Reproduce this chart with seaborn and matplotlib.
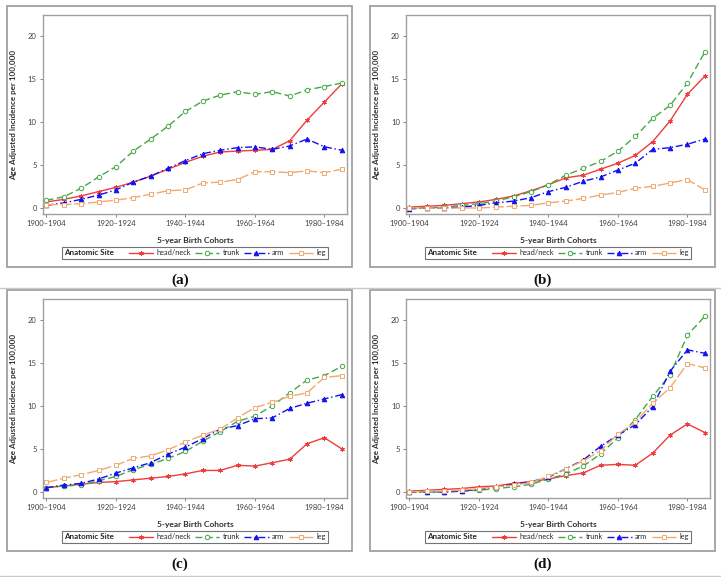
import seaborn as sns
import matplotlib.pyplot as plt
import numpy as np
from matplotlib.patches import Rectangle
from matplotlib.lines import Line2D
from matplotlib.offsetbox import HPacker

sns.set_theme(style='ticks')
plt.rcParams['font.family'] = ['Lato', 'DejaVu Sans']

cohorts = ['1900–1904', '1905–1909', '1910–1914', '1915–1919', '1920–1924', '1925–1929',
           '1930–1934', '1935–1939', '1940–1944', '1945–1949', '1950–1954', '1955–1959',
           '1960–1964', '1965–1969', '1970–1974', '1975–1979', '1980–1984', '1985–1989']
sites = ['head/neck', 'trunk', 'arm', 'leg']

# panel (a)
a_head = [0.7, 1.0, 1.4, 1.9, 2.4, 3.0, 3.7, 4.5, 5.3, 6.0, 6.5, 6.6, 6.7, 6.8, 7.8, 10.2, 12.3, 14.4]
a_trunk = [0.9, 1.3, 2.3, 3.6, 4.8, 6.6, 8.0, 9.5, 11.2, 12.4, 13.1, 13.5, 13.2, 13.5, 13.0, 13.7, 14.1, 14.5]
a_arm = [0.3, 0.6, 1.0, 1.5, 2.1, 3.0, 3.7, 4.6, 5.5, 6.3, 6.7, 7.0, 7.1, 6.8, 7.2, 8.0, 7.1, 6.7]
a_leg = [0.4, 0.4, 0.5, 0.7, 0.9, 1.2, 1.6, 2.0, 2.1, 2.9, 3.0, 3.3, 4.2, 4.2, 4.1, 4.3, 4.1, 4.5]
# panel (b)
b_head = [0.1, 0.2, 0.3, 0.5, 0.7, 1.0, 1.4, 2.0, 2.7, 3.5, 3.8, 4.5, 5.2, 6.1, 7.7, 10.1, 13.2, 15.3]
b_trunk = [0.0, 0.0, 0.1, 0.3, 0.5, 0.8, 1.3, 1.9, 2.7, 3.8, 4.6, 5.4, 6.6, 8.3, 10.4, 11.9, 14.5, 18.1]
b_arm = [-0.1, 0.0, 0.0, 0.1, 0.3, 0.6, 0.8, 1.2, 1.9, 2.4, 3.1, 3.6, 4.4, 5.2, 6.8, 7.0, 7.4, 8.0]
b_leg = [0.0, 0.0, 0.0, 0.0, 0.0, 0.1, 0.2, 0.3, 0.6, 0.8, 1.1, 1.5, 1.8, 2.3, 2.5, 2.9, 3.3, 2.1]
# panel (c)
c_head = [0.5, 0.7, 0.9, 1.1, 1.2, 1.4, 1.6, 1.8, 2.1, 2.5, 2.5, 3.1, 3.0, 3.4, 3.8, 5.6, 6.3, 5.0]
c_trunk = [0.5, 0.7, 0.8, 1.3, 1.8, 2.6, 3.2, 3.9, 4.7, 5.9, 7.0, 8.2, 8.8, 10.0, 11.5, 13.0, 13.5, 14.6]
c_arm = [0.5, 0.8, 1.0, 1.5, 2.2, 2.8, 3.4, 4.4, 5.2, 6.2, 7.3, 7.7, 8.5, 8.6, 9.7, 10.3, 10.8, 11.3]
c_leg = [1.1, 1.6, 2.0, 2.5, 3.1, 3.9, 4.2, 4.9, 5.8, 6.6, 7.3, 8.6, 9.8, 10.4, 11.1, 11.5, 13.3, 13.5]
# panel (d)
d_head = [0.1, 0.2, 0.3, 0.4, 0.6, 0.7, 1.0, 1.2, 1.5, 1.9, 2.2, 3.1, 3.2, 3.1, 4.5, 6.6, 7.9, 6.9]
d_trunk = [0.0, 0.0, 0.0, 0.1, 0.2, 0.4, 0.6, 0.9, 1.5, 2.1, 3.0, 4.4, 6.3, 8.4, 11.1, 13.6, 18.2, 20.4]
d_arm = [0.0, 0.0, 0.0, 0.1, 0.3, 0.6, 0.9, 1.2, 1.7, 2.7, 3.7, 5.3, 6.6, 7.8, 9.9, 14.0, 16.5, 16.1]
d_leg = [0.0, 0.1, 0.1, 0.2, 0.4, 0.6, 0.8, 1.1, 1.8, 2.7, 3.6, 4.8, 6.7, 8.1, 10.3, 12.1, 14.9, 14.4]

panels = {
    'a': [a_head, a_trunk, a_arm, a_leg],
    'b': [b_head, b_trunk, b_arm, b_leg],
    'c': [c_head, c_trunk, c_arm, c_leg],
    'd': [d_head, d_trunk, d_arm, d_leg],
}

colors = ['#F03C3C', '#45A845', '#1010F0', '#F0AA6E']
styles = ['-', (0, (5, 2.5)), (0, (5, 2, 1, 2)), (0, (8, 2))]
markers = [(6, 2, 0), 'o', '^', 's']
msizes = [3.2, 3.2, 3.3, 3.2]
faces = [None, 'white', None, 'white']

W, H = 721, 577
fig = plt.figure(figsize=(W / 100, H / 100), dpi=100)

def fx(px):
    return px / W

def fy(py):
    return 1 - py / H

gray = '#A0A0A0'
# (left, top) pixel origin of each panel
origins = {'a': (0, 0), 'b': (363, 0), 'c': (0, 284), 'd': (363, 284)}
x = np.arange(len(cohorts))

for key, series in panels.items():
    ox, oy = origins[key]
    # outer frame
    fig.add_artist(Rectangle((fx(ox + 7), fy(oy + 267)), fx(345), 261 / H,
                             transform=fig.transFigure, fill=False,
                             edgecolor=gray, lw=1.3))
    ax = fig.add_axes([fx(ox + 43), fy(oy + 214), fx(304), 199 / H])
    for vals, name, col, ls, mk, ms, fc in zip(series, sites, colors, styles, markers, msizes, faces):
        sns.lineplot(x=x, y=vals, ax=ax, color=col, linestyle=ls, lw=1.0,
                     marker=mk, markersize=ms,
                     markerfacecolor=fc if fc else col, markeredgecolor=col,
                     markeredgewidth=0.7, label=name, legend=False)
    ax.set_xlim(-0.2, 17.3)
    ax.set_ylim(-0.7, 22.4)
    ax.set_xticks(x[::4])
    ax.set_xticklabels(cohorts[::4])
    ax.set_yticks([0, 5, 10, 15, 20])
    ax.tick_params(labelsize=5.5, labelcolor='#404040', color='#707070',
                   length=2.5, width=0.6, pad=2)
    for sp in ax.spines.values():
        sp.set_color(gray)
        sp.set_linewidth(1.0)
    ax.set_xlabel('5-year Birth Cohorts', fontsize=6, fontweight='bold',
                  color='#303030', labelpad=7)
    ax.set_ylabel('Age Adjusted Incidence per 100,000', fontsize=5.8,
                  fontweight='bold', color='#303030', labelpad=8)

    handles = [Line2D([], [], color=c, linestyle=s, lw=1.0, marker=m,
                      markersize=ms, markerfacecolor=f if f else c,
                      markeredgecolor=c, markeredgewidth=0.7)
               for c, s, m, ms, f in zip(colors, styles, markers, msizes, faces)]
    lfs = 5.3
    leg = ax.legend(handles, sites, loc='center', ncol=4, numpoints=1,
                    bbox_to_anchor=(152 / 304, -0.195),
                    fontsize=lfs, title='Anatomic Site',
                    title_fontproperties={'weight': 'bold', 'size': 5.8},
                    handlelength=3.3, handletextpad=0.45, columnspacing=0.6,
                    borderpad=0.25, frameon=True, fancybox=False,
                    edgecolor='#505050')
    leg.get_frame().set_linewidth(0.8)
    # put the title in line with the entries
    fs = lfs * 100 / 72
    leg._legend_box = HPacker(pad=0.25 * fs, sep=1.4 * fs, align='center',
                              children=[leg._legend_title_box, leg._legend_handle_box])
    leg._legend_box.set_figure(fig)
    leg._legend_box.axes = ax
    leg._legend_box.set_offset(leg._findoffset)

    fig.text(fx(ox + 180), fy(oy + 280), '(%s)' % key, ha='center', va='center',
             fontsize=11, fontweight='bold', family='Liberation Serif', color='#101010')

# separators
fig.add_artist(Line2D([0, 1], [fy(288), fy(288)], transform=fig.transFigure,
                      color='#C8C8C8', lw=1.0))
fig.add_artist(Line2D([0, 1], [fy(576), fy(576)], transform=fig.transFigure,
                      color='#C8C8C8', lw=1.0))

fig.savefig('out.png', dpi=100)
